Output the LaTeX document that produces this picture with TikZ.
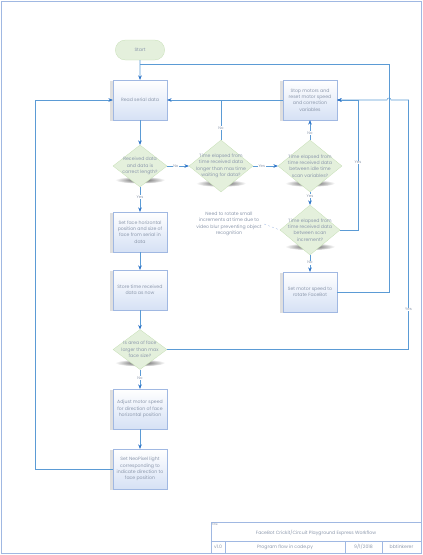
\documentclass[tikz,border=0pt]{standalone}
\usepackage{fontspec}
\setmainfont{Poppins}
\usepackage{tikz}
\usetikzlibrary{calc}
\usetikzlibrary{shapes.geometric,shapes.misc,positioning}
\usetikzlibrary{shadows}
\usetikzlibrary{arrows.meta}
\definecolor{flowblue}{RGB}{91,155,213}
\definecolor{tipblue}{RGB}{46,117,200}
\definecolor{boxline}{RGB}{160,184,226}
\definecolor{boxfill}{RGB}{214,225,245}
\definecolor{decfill}{RGB}{228,240,220}
\definecolor{decline}{RGB}{196,222,178}
\definecolor{txtgray}{RGB}{140,152,172}
\pgfdeclarelayer{bg}
\pgfsetlayers{bg,main}

\tikzset{
  txt/.style={font=\fontsize{6.6}{9}\selectfont, text=txtgray, align=center},
  process/.style={txt, rectangle, draw=boxline, top color=white, bottom color=boxfill,
    minimum width=27mm, minimum height=20mm, inner sep=1pt,
    drop shadow={shadow xshift=-1.4mm, shadow yshift=-0.6mm, opacity=.25}},
  terminal/.style={txt, rounded rectangle, draw=decline, fill=decfill,
    minimum width=27mm, minimum height=10mm},
  decision/.style={diamond, draw=decline, fill=decfill, inner sep=0pt},
  dtext/.style={txt},
  flow/.style={draw=flowblue, line width=0.75pt, -{Stealth[length=2.2mm,width=1.8mm,color=tipblue]}},
  line/.style={draw=flowblue, line width=0.75pt},
  lbl/.style={fill=white, inner sep=0.8pt, font=\fontsize{5.4}{6}\selectfont, text=txtgray},
  tb/.style={draw=boxline, line width=0.5pt},
}

\begin{document}
\begin{tikzpicture}[x=0.5mm, y=-0.5mm]
\useasboundingbox (0,0) rectangle (423,555);
\draw[boxline, line width=0.8pt] (1,1) rectangle (421,553);

% left column
\node[terminal] (start) at (140,50) {Start};
\node[process] (read) at (140,100) {Read serial data};
\node[decision, minimum width=27mm, minimum height=21mm] (drecv) at (140,166) {};
\node[dtext] (drecv-t) at (drecv) {Received data\\and data is\\correct length?};
\node[process] (setface) at (140,232) {Set face horizontal\\position and size of\\face from serial in\\data};
\node[process] (store) at (140,290) {Store time received\\data as now};
\node[decision, minimum width=27mm, minimum height=20mm] (darea) at (140,349.5) {};
\node[dtext] (darea-t) at (darea) {Is area of face\\larger than max\\face size?};
\node[process] (adjust) at (140,409) {Adjust motor speed\\for direction of face\\horizontal position};
\node[process] (neo) at (140,469) {Set NeoPixel light\\corresponding to\\indicate direction to\\face position};

% middle and right
\node[decision, minimum width=32mm, minimum height=26mm] (dtime) at (221,166) {};
\node[dtext] (dtime-t) at (dtime) {Time elapsed from\\time received data\\longer than max time\\waiting for data?};
\node[decision, minimum width=32mm, minimum height=26mm] (didle) at (310,166) {};
\node[dtext] (didle-t) at (didle) {Time elapsed from\\time received data\\between idle time\\scan variables?};
\node[process] (stop) at (310,100) {Stop motors and\\reset motor speed\\and correction\\variables};
\node[decision, minimum width=30mm, minimum height=25mm] (dscan) at (310,230) {};
\node[dtext] (dscan-t) at (dscan) {Time elapsed from\\time received data\\between scan\\increment?};
\node[process] (rotate) at (310,292) {Set motor speed to\\rotate FaceBot};

\node[txt] (note) at (229,224) {Need to rotate small\\increments at time due to\\video blur preventing object\\recognition};

% shadows under the diamonds
\begin{pgfonlayer}{bg}
\foreach \d in {drecv,darea,dtime,didle,dscan}
  \shade[inner color=black!70, outer color=white] ($(\d.center)!.66!(\d.south)$) ellipse [x radius=12.5mm, y radius=1.8mm];
\end{pgfonlayer}

\coordinate (c1) at (358,100);
\coordinate (c2) at (35,100);
\coordinate (c3) at (408.5,100);
\coordinate (c4) at (389,64);
\coordinate (c5) at (140,64);
\coordinate (hop) at (389,100);

\draw[flow] (start) -- (read);
\draw[flow] (read) -- (drecv);
\draw[flow] (drecv) -- node[lbl, pos=.4] {No} (dtime);
\draw[flow] (drecv) -- node[lbl, pos=.4] {Yes} (setface);
\draw[flow] (setface) -- (store);
\draw[flow] (store) -- (darea);
\draw[flow] (darea) -- node[lbl, pos=.45] {No} (adjust);
\draw[flow] (adjust) -- (neo);
\draw[flow] (neo.west) -| (c2) -- (read.west);

\draw[flow] (stop) -- (read);
\draw[line] (dtime.north) -- node[lbl, pos=.3] {No} (dtime.north |- read.east);
\draw[flow] (dtime) -- node[lbl, pos=.35] {Yes} (didle);
\draw[flow] (didle) -- node[lbl, pos=.35] {No} (stop);
\draw[flow] (didle) -- node[lbl, pos=.3] {Yes} (dscan);
\draw[flow] (dscan) -- node[lbl, pos=.45] {No} (rotate);
\draw[flow] (dscan.east) -| node[lbl, pos=.76] {Yes} (c1) -- (stop.east);
\draw[line] (rotate.east) -| (c4) -- (c5);
\draw[flow] (darea.east) -| node[lbl, pos=.58] {Yes} (c3) -- ([xshift=1mm]hop) arc[start angle=0, end angle=180, radius=1mm] -- (stop.east);

\draw[boxline, dashed, line width=0.4pt] (note.east) -- (dscan.west);

% title block
\draw[tb] (211,522) rectangle (421,553);
\draw[tb] (211,541) -- (421,541) (225,541) -- (225,553) (345,541) -- (345,553) (382,541) -- (382,553);
\node[txt, font=\fontsize{4.2}{5}\selectfont, anchor=north west, inner sep=1pt] (tblbl) at (211,522) {Title};
\node[txt] (tbtitle) at (316,533) {FaceBot Crickit/Circuit Playground Express Workflow};
\node[txt] (tbver) at (218,547) {v1.0};
\node[txt] (tbdesc) at (285,547) {Program flow in code.py};
\node[txt] (tbdate) at (363.5,547) {9/1/2018};
\node[txt] (tbauth) at (401.5,547) {bbtinkerer};
\end{tikzpicture}
\end{document}
